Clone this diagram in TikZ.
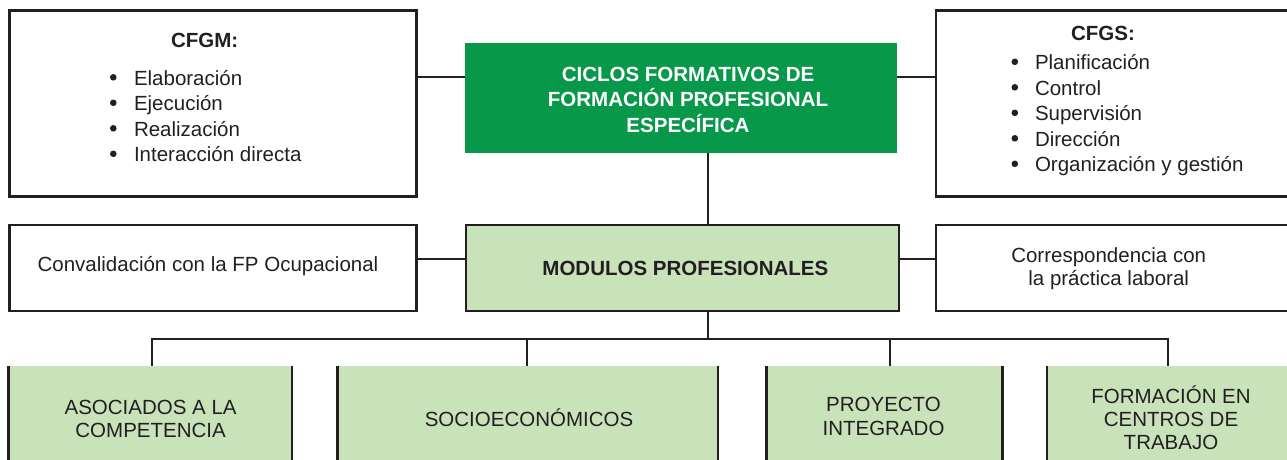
\documentclass[tikz,border=0pt]{standalone}
\usepackage{fontspec}
\setmainfont{Liberation Sans}
\definecolor{dkgreen}{HTML}{08984A}
\definecolor{ltgreen}{HTML}{C8E3BA}
\definecolor{ink}{HTML}{231F20}
\newcommand{\bdot}{\tikz[baseline=0pt]\fill[ink] (3.4pt,7.7pt) circle[radius=3.3pt];}
\begin{document}
\begin{tikzpicture}[x=1pt,y=-1pt,
  box/.style={draw=ink,line width=2.5pt,rectangle,inner sep=0pt,outer sep=0pt},
  lowbox/.style={fill=ltgreen,rectangle,inner sep=0pt,outer sep=0pt,minimum height=114pt},
  side/.style={draw=ink,line width=2.5pt},
  txt/.style={inner sep=0pt,outer sep=0pt,text=ink,font=\fontsize{20.5}{25.5}\selectfont},
  ctxt/.style={inner sep=0pt,outer sep=0pt,text=ink,font=\fontsize{20.5}{23.3}\selectfont},
  btxt/.style={inner sep=0pt,outer sep=0pt,text=ink,font=\fontsize{20.5}{23.5}\selectfont\bfseries},
  conn/.style={draw=ink,line width=2.3pt}]
\useasboundingbox (0,0) rectangle (1287,459);
\clip (0,0) rectangle (1287,459);

% top row
\node[box, minimum width=407pt, minimum height=186pt] (cfgm) at (213,103.5) {};
\node[fill=dkgreen, inner sep=0pt, outer sep=0pt, minimum width=432pt, minimum height=110pt] (ciclos) at (681,98) {};
\node[box, minimum width=364pt, minimum height=186pt] (cfgs) at (1118,103.5) {};

\node[btxt, anchor=base] (cfgmT) at (204.7,47.5) {CFGM:};
\node[txt, anchor=base west] (cfgmL) at (110,85) {\begin{tabular}[t]{@{}l@{}}
\makebox[24pt][l]{\bdot}Elaboración\\
\makebox[24pt][l]{\bdot}Ejecución\\
\makebox[24pt][l]{\bdot}Realización\\
\makebox[24pt][l]{\bdot}Interacción directa
\end{tabular}};

\node[btxt, text=white, anchor=base] (ciclosT) at (688,81.7) {\begin{tabular}[t]{@{}c@{}}
CICLOS FORMATIVOS DE\\
FORMACIÓN PROFESIONAL\\
ESPECÍFICA
\end{tabular}};

\node[btxt, anchor=base] (cfgsT) at (1103,40) {CFGS:};
\node[txt, anchor=base west] (cfgsL) at (1011.5,69.5) {\begin{tabular}[t]{@{}l@{}}
\makebox[23.5pt][l]{\bdot}Planificación\\
\makebox[23.5pt][l]{\bdot}Control\\
\makebox[23.5pt][l]{\bdot}Supervisión\\
\makebox[23.5pt][l]{\bdot}Dirección\\
\makebox[23.5pt][l]{\bdot}Organización y gestión
\end{tabular}};

% middle row
\node[box, minimum width=407pt, minimum height=86pt] (conv) at (213,268) {};
\node[box, fill=ltgreen, minimum width=433pt, minimum height=86pt] (mod) at (682.3,268) {};
\node[box, minimum width=364pt, minimum height=86pt] (corr) at (1118,268) {};

\node[ctxt, anchor=base] (convT) at (208,271.7) {Convalidación con la FP Ocupacional};
\node[btxt, anchor=base] (modT) at (685.4,275.3) {MODULOS PROFESIONALES};
\node[ctxt, anchor=base] (corrT) at (1108.7,262.3) {\begin{tabular}[t]{@{}c@{}}
Correspondencia con\\
la práctica laboral
\end{tabular}};

% bottom row
\node[lowbox, minimum width=283.5pt] (b1) at (150.25,423) {};
\node[lowbox, minimum width=380.5pt] (b2) at (527.75,423) {};
\node[lowbox, minimum width=236pt] (b3) at (884.5,423) {};
\node[lowbox, minimum width=248pt] (b4) at (1171,423) {};
\foreach \b in {b1,b2,b3,b4}{
  \draw[side] (\b.north west) -- (\b.south west) (\b.north east) -- (\b.south east);
}

\node[ctxt, anchor=base] (b1T) at (150.6,414.3) {\begin{tabular}[t]{@{}c@{}}
ASOCIADOS A LA\\
COMPETENCIA
\end{tabular}};
\node[ctxt, anchor=base] (b2T) at (529,426) {SOCIOECONÓMICOS};
\node[ctxt, anchor=base] (b3T) at (883.5,411.7) {\begin{tabular}[t]{@{}c@{}}
PROYECTO\\
INTEGRADO
\end{tabular}};
\node[ctxt, anchor=base] (b4T) at (1171,403.3) {\begin{tabular}[t]{@{}c@{}}
FORMACIÓN EN\\
CENTROS DE\\
TRABAJO
\end{tabular}};

% connectors
\draw[conn] ([yshift=21pt]ciclos.west) -- ([yshift=21pt]ciclos.west -| cfgm.east);
\draw[conn] ([yshift=21pt]ciclos.east) -- ([yshift=21pt]ciclos.east -| cfgs.west);
\draw[conn] ([xshift=27pt]ciclos.south) -- ([xshift=27pt]ciclos.south |- mod.north);
\draw[conn] ([yshift=9pt]mod.west) -- ([yshift=9pt]mod.west -| conv.east);
\draw[conn] ([yshift=9pt]mod.east) -- ([yshift=9pt]mod.east -| corr.west);

\coordinate (bus) at (708,339);
\coordinate (d1) at (152,339);
\coordinate (d2) at (527,339);
\coordinate (d3) at (890,339);
\coordinate (d4) at (1168,339);
\draw[conn] (mod.south -| bus) -- (bus);
\draw[conn] (b1.north -| d1) -- (d1) -- (d4) -- (b4.north -| d4);
\draw[conn] (b2.north -| d2) -- (d2);
\draw[conn] (b3.north -| d3) -- (d3);
\end{tikzpicture}
\end{document}
